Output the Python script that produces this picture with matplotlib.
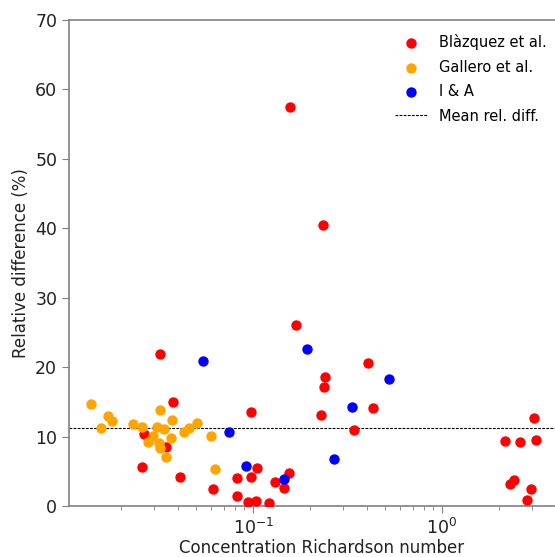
import numpy as np
import matplotlib
matplotlib.use("Agg")
import matplotlib.pyplot as plt

# Blazquez et al.
ri_blaz = [0.0377, 0.0322, 0.0265, 0.0347, 0.0259, 0.0411, 0.0613, 0.0823, 0.0976,
           0.0823, 0.0941, 0.1037, 0.1216, 0.0976, 0.105, 0.1306, 0.155, 0.146,
           0.157, 0.234, 0.169, 0.240, 0.2375, 0.229, 0.406, 0.431, 0.342,
           3.07, 2.15, 2.59, 3.14, 2.29, 2.40, 2.96, 2.82]
rd_blaz = [15.0, 21.9, 10.4, 8.5, 5.6, 4.2, 2.4, 4.0, 4.2,
           1.4, 0.6, 0.7, 0.4, 13.5, 5.5, 3.5, 4.75, 2.6,
           57.5, 40.5, 26.1, 18.6, 17.1, 13.1, 20.6, 14.1, 10.9,
           12.7, 9.4, 9.2, 9.5, 3.2, 3.7, 2.4, 0.9]

# Gallero et al.
ri_gall = [0.0139, 0.0157, 0.0171, 0.0179, 0.0232, 0.0259, 0.0278, 0.0296, 0.0311,
           0.0318, 0.0322, 0.0322, 0.0338, 0.0347, 0.0368, 0.0373, 0.0431, 0.0458,
           0.0505, 0.0600, 0.0630]
rd_gall = [14.7, 11.2, 13.0, 12.2, 11.8, 11.4, 9.2, 10.1, 11.4,
           9.1, 13.8, 8.4, 11.1, 7.1, 9.8, 12.4, 10.7, 11.2,
           12.0, 10.1, 5.3]

# I & A
ri_ia = [0.0544, 0.0746, 0.0918, 0.146, 0.193, 0.268, 0.334, 0.525]
rd_ia = [20.9, 10.7, 5.8, 3.9, 22.6, 6.8, 14.3, 18.3]

mean_rd = 11.2

fig = plt.figure(figsize=(5.55, 5.57), dpi=100)
ax = fig.add_axes([69/555, 1-506/557, (574-69)/555, 486/557])

ax.scatter(ri_blaz, rd_blaz, s=42, c='red', label='Blàzquez et al.', zorder=3)
ax.scatter(ri_gall, rd_gall, s=42, c='orange', label='Gallero et al.', zorder=3)
ax.scatter(ri_ia, rd_ia, s=42, c='blue', label='I & A', zorder=3)
ax.axhline(mean_rd, color='black', ls='--', lw=0.8, dashes=(2.5, 1.2), label='Mean rel. diff.')

ax.set_xscale('log')
ax.set_xlim(0.0106, 5.0)
ax.set_ylim(0, 70)
ax.set_yticks(np.arange(0, 71, 10))

for s in ['left', 'bottom', 'top']:
    ax.spines[s].set_color('#808080')
    ax.spines[s].set_linewidth(1.2)
ax.spines['right'].set_visible(False)
ax.tick_params(which='both', colors='#808080', labelcolor='#222222', labelsize=12.5)
ax.tick_params(which='major', length=5)
ax.tick_params(which='minor', length=3)

ax.set_xlabel('Concentration Richardson number', fontsize=12, color='#222222', labelpad=1)
ax.set_ylabel('Relative difference (%)', fontsize=12, color='#222222')

ax.legend(loc='upper right', bbox_to_anchor=(560/555, 1-21/557), bbox_transform=fig.transFigure,
          frameon=False, fontsize=10.5, handlelength=2.2, labelspacing=0.65)

fig.savefig('out.png', dpi=100)
